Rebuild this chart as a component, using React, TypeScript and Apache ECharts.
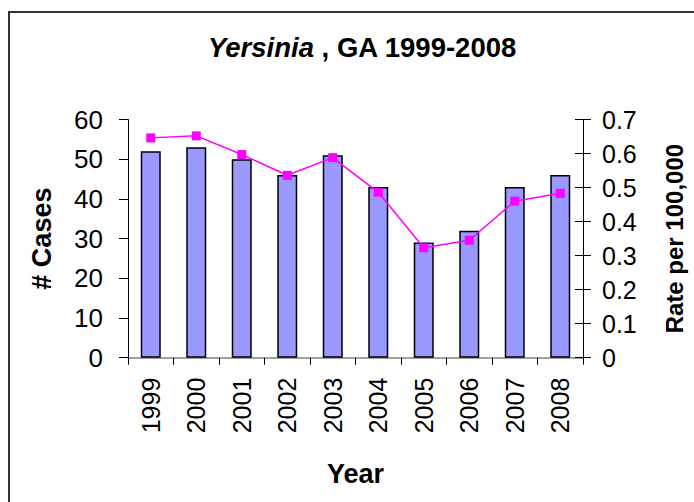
import React, { useEffect, useRef } from "react";
import * as echarts from "echarts";

const years = ["1999", "2000", "2001", "2002", "2003", "2004", "2005", "2006", "2007", "2008"];
const cases = [52, 53, 50, 46, 51, 43, 29, 32, 43, 46];
const rates = [0.646, 0.652, 0.597, 0.536, 0.588, 0.486, 0.323, 0.345, 0.46, 0.483];
const leftTicks = { min: 0, max: 60, interval: 10 };
const rightTicks = { min: 0, max: 0.7, interval: 0.1 };

const FONT = "'Liberation Sans', Arial, sans-serif";

export default function App() {
  const ref = useRef<HTMLDivElement>(null);
  useEffect(() => {
    if (!ref.current) return;
    const chart = echarts.init(ref.current, undefined, { renderer: "svg" });
    chart.setOption({
      animation: false,
      backgroundColor: "#ffffff",
      textStyle: { fontFamily: FONT },
      title: {
        text: "{i|Yersinia}{b| , GA 1999-2008}",
        left: 203,
        top: 28,
        textStyle: {
          rich: {
            i: { fontFamily: FONT, fontSize: 27.5, fontWeight: "bold", fontStyle: "italic", color: "#000" },
            b: { fontFamily: FONT, fontSize: 27.5, fontWeight: "bold", color: "#000" },
          },
        },
      },
      graphic: [
        {
          type: "rect",
          shape: { x: 9, y: 12, width: 720, height: 520 },
          style: { fill: "none", stroke: "#333333", lineWidth: 2 },
          silent: true,
        },
      ],
      grid: { left: 128, right: 105, top: 119.5, bottom: 144.3 },
      xAxis: {
        type: "category",
        data: years,
        name: "Year",
        nameLocation: "middle",
        nameGap: 103,
        nameTextStyle: { fontFamily: FONT, fontSize: 27, fontWeight: "bold", color: "#000" },
        axisLine: { lineStyle: { color: "#808080", width: 1.5 } },
        axisTick: { show: true, length: 7, lineStyle: { color: "#000" } },
        axisLabel: {
          rotate: 90,
          margin: 20,
          fontFamily: FONT,
          fontSize: 25,
          color: "#000",
        },
      },
      yAxis: [
        {
          type: "value",
          min: leftTicks.min,
          max: leftTicks.max,
          interval: leftTicks.interval,
          name: "# Cases",
          nameLocation: "middle",
          nameGap: 73,
          nameTextStyle: { fontFamily: FONT, fontSize: 27, fontWeight: "bold", color: "#000" },
          axisLine: { show: true, lineStyle: { color: "#000", width: 1 } },
          axisTick: { show: true, length: 9, lineStyle: { color: "#000" } },
          axisLabel: { margin: 25, fontFamily: FONT, fontSize: 26, color: "#000" },
          splitLine: { show: false },
        },
        {
          type: "value",
          position: "right",
          min: rightTicks.min,
          max: rightTicks.max,
          interval: rightTicks.interval,
          name: "Rate per 100,000",
          nameLocation: "middle",
          nameGap: 79,
          nameRotate: 90,
          nameTextStyle: { fontFamily: FONT, fontSize: 24, fontWeight: "bold", color: "#000" },
          axisLine: { show: true, lineStyle: { color: "#000", width: 1 } },
          axisTick: { show: true, inside: false, length: 8, lineStyle: { color: "#000" } },
          axisLabel: {
            margin: 19,
            fontFamily: FONT,
            fontSize: 25,
            color: "#000",
            formatter: (v: number) => (v === 0 ? "0" : v.toFixed(1)),
          },
          splitLine: { show: false },
        },
        {
          type: "value",
          position: "right",
          min: rightTicks.min,
          max: rightTicks.max,
          interval: rightTicks.interval,
          axisLine: { show: false },
          axisTick: { show: true, inside: true, length: 8, lineStyle: { color: "#000" } },
          axisLabel: { show: false },
          splitLine: { show: false },
        },
      ],
      series: [
        {
          type: "bar",
          name: "# Cases",
          data: cases,
          yAxisIndex: 0,
          barWidth: 20,
          itemStyle: { color: "#9999FF", borderColor: "#000", borderWidth: 1.5 },
        },
        {
          type: "line",
          name: "Rate",
          data: rates,
          yAxisIndex: 1,
          symbol: "rect",
          symbolSize: 9,
          lineStyle: { color: "#FF00FF", width: 1.5 },
          itemStyle: { color: "#FF00FF" },
          z: 3,
        },
      ],
    });
    return () => chart.dispose();
  }, []);
  return (
    <div
      ref={ref}
      style={{ position: "fixed", left: 0, top: 0, width: 694, height: 502, background: "#fff" }}
    />
  );
}
